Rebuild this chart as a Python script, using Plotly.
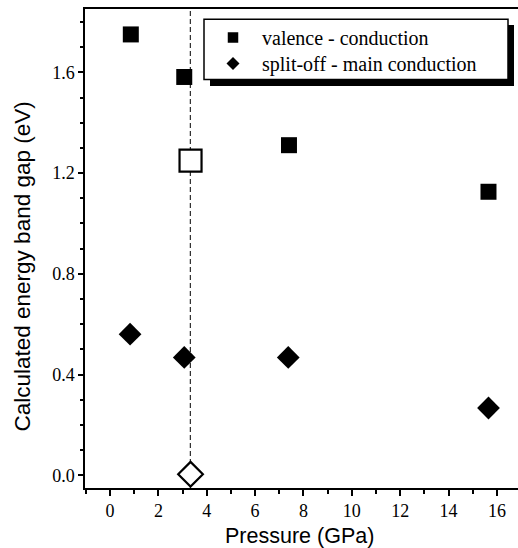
import plotly.graph_objects as go

# Data
vc_pressure = [0.86, 3.07, 7.40, 15.65]
vc_gap = [1.751, 1.582, 1.311, 1.126]
so_pressure = [0.83, 3.07, 7.37, 15.65]
so_gap = [0.560, 0.468, 0.468, 0.267]
open_pressure = [3.33]
open_vc_gap = [1.250]
open_so_gap = [0.004]
transition_pressure = 3.32

names = ["valence - conduction", "split-off - main conduction"]
x_title = "Pressure (GPa)"
y_title = "Calculated energy band gap (eV)"

L, R, T, B = 85, 0, 9, 60
W, H = 518, 548
PW, PH = W - L - R, H - T - B


def px(x):
    return (x - L) / PW


def py(y):
    return (H - B - y) / PH


serif = "Liberation Serif"
sans = "Liberation Sans"

fig = go.Figure()

fig.add_trace(go.Scatter(x=vc_pressure, y=vc_gap, mode="markers", showlegend=False,
                         marker=dict(symbol="square", size=16, color="black", line=dict(width=0))))
fig.add_trace(go.Scatter(x=so_pressure, y=so_gap, mode="markers", showlegend=False,
                         marker=dict(symbol="diamond", size=17.5, color="black", line=dict(width=0))))
fig.add_trace(go.Scatter(x=open_pressure, y=open_vc_gap, mode="markers", showlegend=False,
                         marker=dict(symbol="square", size=22, color="white",
                                     line=dict(width=2.2, color="black"))))
fig.add_trace(go.Scatter(x=open_pressure, y=open_so_gap, mode="markers", showlegend=False,
                         marker=dict(symbol="diamond", size=19, color="white",
                                     line=dict(width=2.2, color="black"))))
# legend entries
fig.add_trace(go.Scatter(x=[None], y=[None], mode="markers", name=names[0], legend="legend",
                         marker=dict(symbol="square", size=10.5, color="black", line=dict(width=0))))
fig.add_trace(go.Scatter(x=[None], y=[None], mode="markers", name=names[1], legend="legend2",
                         marker=dict(symbol="diamond", size=10, color="black", line=dict(width=0))))

shapes = [
    dict(type="line", xref="x", yref="paper", x0=transition_pressure, x1=transition_pressure,
         y0=0, y1=1, line=dict(color="black", width=1, dash="5px,3px"), layer="below"),
    # legend shadow
    dict(type="rect", xref="paper", yref="paper", x0=px(210), x1=px(514), y0=py(86), y1=py(25),
         fillcolor="black", line=dict(width=0), layer="above"),
    dict(type="rect", xref="paper", yref="paper", x0=px(204), x1=px(508), y0=py(79.5), y1=py(19.3),
         fillcolor="white", line=dict(width=1.5, color="black"), layer="above"),
]

annotations = [
    dict(text=x_title, xref="paper", yref="paper", x=px(299), y=py(536), xanchor="center",
         yanchor="middle", showarrow=False, font=dict(family=sans, size=21.5, color="black")),
    dict(text=y_title, xref="paper", yref="paper", x=px(22), y=py(266.5), xanchor="center",
         yanchor="middle", textangle=-90, showarrow=False,
         font=dict(family=sans, size=22.5, color="black")),
]

legend_style = dict(xanchor="left", yanchor="top", bgcolor="rgba(0,0,0,0)", borderwidth=0,
                    itemwidth=48, font=dict(family=serif, size=20, color="black"), tracegroupgap=0)

fig.update_layout(
    width=W, height=H,
    margin=dict(l=L, r=R, t=T, b=B),
    paper_bgcolor="white", plot_bgcolor="white",
    font=dict(family=serif, size=18, color="black"),
    shapes=shapes,
    annotations=annotations,
    showlegend=True,
    legend=dict(x=px(204), y=py(18), **legend_style),
    legend2=dict(x=px(204), y=py(44), **legend_style),
    xaxis=dict(range=[-1.034, 16.87], tickvals=[0, 2, 4, 6, 8, 10, 12, 14, 16],
               showgrid=False, zeroline=False, showline=True, linecolor="black", linewidth=1.5,
               mirror=True, ticks="outside", ticklen=6, tickwidth=1.5, tickcolor="black",
               minor=dict(dtick=1, tick0=0, ticks="outside", ticklen=4, tickwidth=1.5, tickcolor="black"),
               tickfont=dict(family=serif, size=18)),
    yaxis=dict(range=[-0.0508, 1.852], tickvals=[0.0, 0.4, 0.8, 1.2, 1.6],
               ticktext=["0.0", "0.4", "0.8", "1.2", "1.6"],
               showgrid=False, zeroline=False, showline=True, linecolor="black", linewidth=1.5,
               mirror=False, ticks="outside", ticklen=5, tickwidth=1.5, tickcolor="black",
               minor=dict(dtick=0.1, tick0=0, ticks="outside", ticklen=3.5, tickwidth=1.5, tickcolor="black"),
               tickfont=dict(family=serif, size=18)),
)

fig.write_html("out.html")
